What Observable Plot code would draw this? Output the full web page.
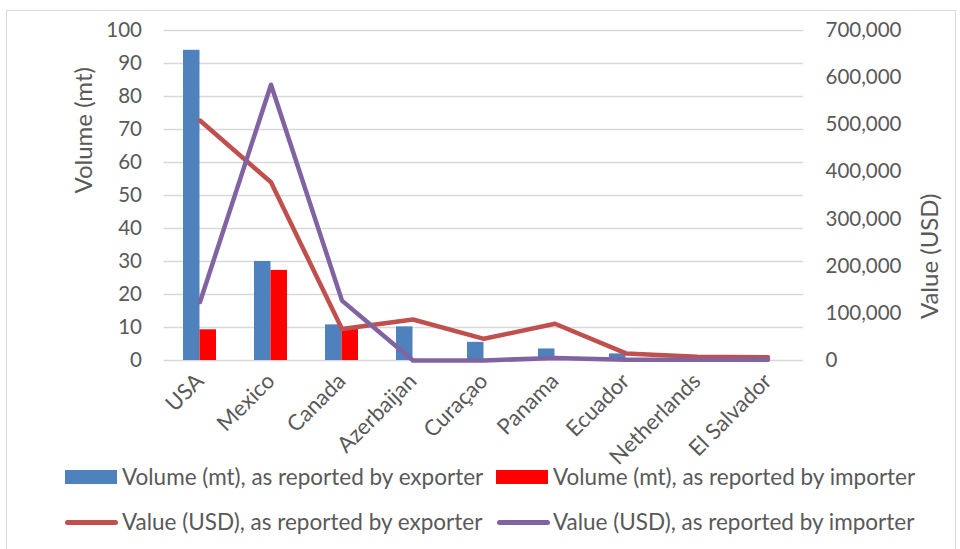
<!DOCTYPE html>
<html>
<head>
<meta charset="utf-8">
<script src="https://cdn.jsdelivr.net/npm/d3@7"></script>
<script src="https://cdn.jsdelivr.net/npm/@observablehq/plot@0.6"></script>
<style>
  html, body { margin: 0; padding: 0; background: #fff; overflow: hidden; }
  #wrap { position: relative; width: 960px; height: 549px; overflow: hidden; font-family: Lato, "Open Sans", sans-serif; color: #595959; }
  #frame { position: absolute; left: 6px; top: 10px; width: 950px; height: 600px; border: 1.5px solid #d9d9d9; box-sizing: border-box; }
  #chart { position: absolute; left: 0; top: 0; }
  #chart svg text { font-family: Lato, "Open Sans", sans-serif; fill: #595959; }
  .leg { position: absolute; font-size: 22.5px; line-height: 22px; white-space: nowrap; color: #595959; }
  .sw { position: absolute; }
</style>
</head>
<body>
<div id="wrap">
  <div id="frame"></div>
  <div id="chart"></div>
  <div class="sw" style="left:65px;top:470px;width:52px;height:14px;background:#4F81BD"></div>
  <div class="leg" style="left:122px;top:466px">Volume (mt), as reported by exporter</div>
  <div class="sw" style="left:496px;top:470px;width:52px;height:14px;background:#FF0000"></div>
  <div class="leg" style="left:553px;top:466px">Volume (mt), as reported by importer</div>
  <div class="sw" style="left:65px;top:520px;width:53px;height:5px;border-radius:3px;background:#C0504D"></div>
  <div class="leg" style="left:122px;top:511px">Value (USD), as reported by exporter</div>
  <div class="sw" style="left:497px;top:520px;width:53px;height:5px;border-radius:3px;background:#8064A2"></div>
  <div class="leg" style="left:553px;top:511px">Value (USD), as reported by importer</div>
</div>
<script>
const countries = ["USA", "Mexico", "Canada", "Azerbaijan", "Curaçao", "Panama", "Ecuador", "Netherlands", "El Salvador"];
const volumeExporter = [94, 30, 10.8, 10.2, 5.5, 3.5, 2.0, 0.3, 0.2];
const volumeImporter = [9.3, 27.3, 9.6, 0, 0, 0, 0, 0, 0];
const valueExporter = [509000, 378000, 67000, 87000, 46000, 78000, 15000, 8000, 7000];
const valueImporter = [124000, 585000, 127000, 0, 0, 5500, 1500, 1500, 1500];
const volumeTicks = [0, 10, 20, 30, 40, 50, 60, 70, 80, 90, 100];
const valueTicks = [0, 100000, 200000, 300000, 400000, 500000, 600000, 700000];

const ratio = 700000 / 100; // right axis max / left axis max
const rows = countries.map((c, i) => ({
  country: c,
  volExp: volumeExporter[i],
  volImp: volumeImporter[i],
  valExp: valueExporter[i] / ratio,
  valImp: valueImporter[i] / ratio
}));

const chart = Plot.plot({
  width: 960,
  height: 450,
  marginLeft: 163.5,
  marginRight: 157,
  marginTop: 30,
  marginBottom: 90,
  style: { fontFamily: "Lato, 'Open Sans', sans-serif", fontSize: "20px", color: "#595959", background: "transparent", overflow: "visible" },
  x: { domain: countries, padding: 0, label: null },
  y: { domain: [0, 100], label: null },
  marks: [
    Plot.gridY(volumeTicks, { stroke: "#d9d9d9", strokeOpacity: 1, strokeWidth: 1.5 }),
    Plot.axisY(volumeTicks, { anchor: "left", tickSize: 0, tickPadding: 22, label: null, fontSize: 20.5 }),
    Plot.axisY(valueTicks.map(v => v / ratio), { anchor: "right", tickSize: 0, tickPadding: 22, label: null, fontSize: 20.5,
      tickFormat: d => d3.format(",")(Math.round(d * ratio)) }),
    Plot.axisX({ tickRotate: -45, tickSize: 0, tickPadding: 17, label: null, fontSize: 22 }),
    Plot.rectY(rows, { x: "country", y: "volExp", fill: "#4F81BD", insetLeft: 19, insetRight: 35.5 }),
    Plot.rectY(rows, { x: "country", y: "volImp", fill: "#FF0000", insetLeft: 35.5, insetRight: 19 }),
    Plot.line(rows, { x: "country", y: "valExp", stroke: "#C0504D", strokeWidth: 4.5, strokeLinejoin: "round", strokeLinecap: "round" }),
    Plot.line(rows, { x: "country", y: "valImp", stroke: "#8064A2", strokeWidth: 4.5, strokeLinejoin: "round", strokeLinecap: "round" }),
    Plot.text(["Volume (mt)"], { frameAnchor: "left", rotate: -90, dx: -79.5, dy: -2, fontSize: 24 }),
    Plot.text(["Value (USD)"], { frameAnchor: "right", rotate: -90, dx: 127, dy: -2, fontSize: 24 })
  ]
});
document.getElementById("chart").appendChild(chart);
</script>
</body>
</html>
